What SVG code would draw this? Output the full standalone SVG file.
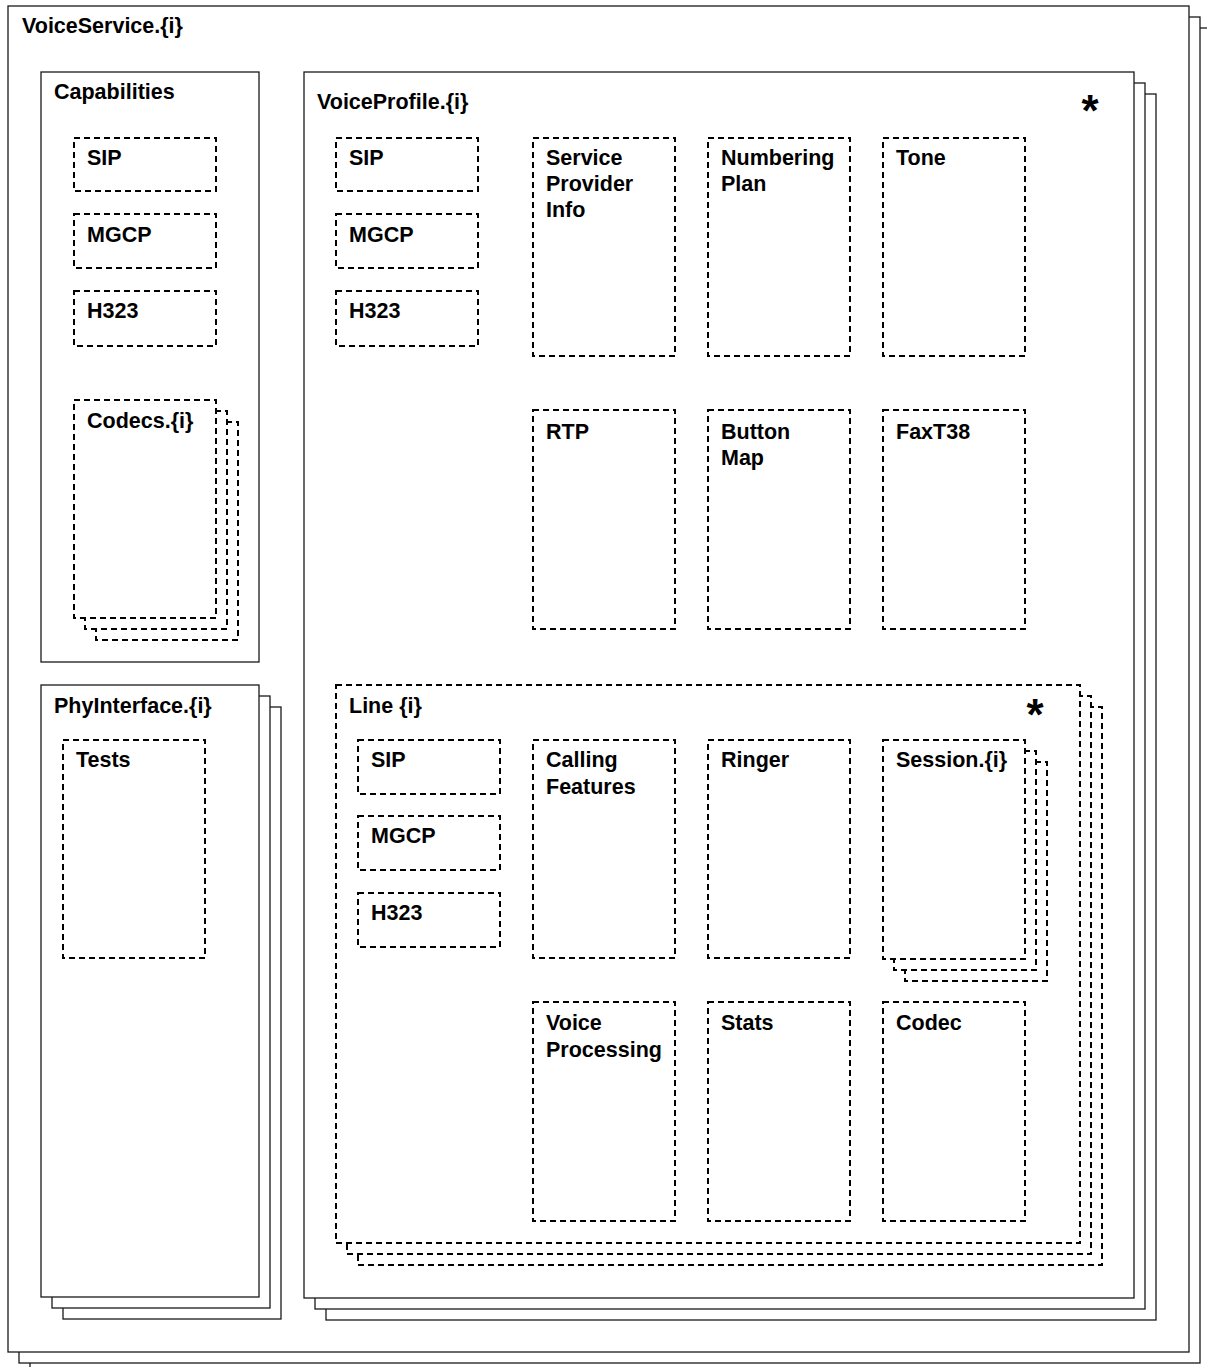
<svg xmlns="http://www.w3.org/2000/svg" width="1207" height="1367" viewBox="0 0 1207 1367">
<style>
.solid{fill:#fff;stroke:#1a1a1a;stroke-width:1.3}
.dash{fill:#fff;stroke:#000;stroke-width:2;stroke-dasharray:6 4}
.lbl{font-family:"Liberation Sans",Arial,Helvetica,sans-serif;font-weight:bold;font-size:21.5px;fill:#000}
.star{font-family:"Liberation Sans",Arial,sans-serif;font-weight:bold;font-size:44px;fill:#000;text-anchor:middle}
</style>
<rect width="1207" height="1367" fill="#fff"/>
<g id="VoiceService">
<rect class="solid" x="30" y="28" width="1181" height="1346"/>
<rect class="solid" x="19" y="17" width="1181" height="1346"/>
<rect class="solid" x="8" y="6" width="1181" height="1346"/>
<text class="lbl" x="22" y="33">VoiceService.{i}</text>
</g>
<g id="Capabilities">
<rect class="solid" x="41" y="72" width="218" height="590"/>
<text class="lbl" x="54" y="99">Capabilities</text>
</g>
<g id="Cap_SIP"><rect class="dash" x="74" y="138" width="142" height="53"/><text class="lbl" x="87" y="165">SIP</text></g>
<g id="Cap_MGCP"><rect class="dash" x="74" y="214" width="142" height="54"/><text class="lbl" x="87" y="242">MGCP</text></g>
<g id="Cap_H323"><rect class="dash" x="74" y="291" width="142" height="55"/><text class="lbl" x="87" y="318">H323</text></g>
<g id="Cap_Codecs">
<rect class="dash" x="96" y="422" width="142" height="218"/>
<rect class="dash" x="85" y="411" width="142" height="218"/>
<rect class="dash" x="74" y="400" width="142" height="218"/>
<text class="lbl" x="87" y="428">Codecs.{i}</text>
</g>
<g id="PhyInterface">
<rect class="solid" x="63" y="707" width="218" height="612"/>
<rect class="solid" x="52" y="696" width="218" height="612"/>
<rect class="solid" x="41" y="685" width="218" height="612"/>
<text class="lbl" x="54" y="713">PhyInterface.{i}</text>
</g>
<g id="Phy_Tests"><rect class="dash" x="63" y="740" width="142" height="218"/><text class="lbl" x="76" y="767">Tests</text></g>
<g id="VoiceProfile">
<rect class="solid" x="326" y="94" width="830" height="1226"/>
<rect class="solid" x="315" y="83" width="830" height="1226"/>
<rect class="solid" x="304" y="72" width="830" height="1226"/>
<text class="lbl" x="317" y="109">VoiceProfile.{i}</text>
<text class="star" x="1090" y="126">*</text>
</g>
<g id="VP_SIP"><rect class="dash" x="336" y="138" width="142" height="53"/><text class="lbl" x="349" y="165">SIP</text></g>
<g id="VP_MGCP"><rect class="dash" x="336" y="214" width="142" height="54"/><text class="lbl" x="349" y="242">MGCP</text></g>
<g id="VP_H323"><rect class="dash" x="336" y="291" width="142" height="55"/><text class="lbl" x="349" y="318">H323</text></g>
<g id="VP_ServiceProviderInfo"><rect class="dash" x="533" y="138" width="142" height="218"/><text class="lbl" x="546" y="165">Service</text><text class="lbl" x="546" y="191">Provider</text><text class="lbl" x="546" y="217">Info</text></g>
<g id="VP_NumberingPlan"><rect class="dash" x="708" y="138" width="142" height="218"/><text class="lbl" x="721" y="165">Numbering</text><text class="lbl" x="721" y="191">Plan</text></g>
<g id="VP_Tone"><rect class="dash" x="883" y="138" width="142" height="218"/><text class="lbl" x="896" y="165">Tone</text></g>
<g id="VP_RTP"><rect class="dash" x="533" y="410" width="142" height="219"/><text class="lbl" x="546" y="439">RTP</text></g>
<g id="VP_ButtonMap"><rect class="dash" x="708" y="410" width="142" height="219"/><text class="lbl" x="721" y="439">Button</text><text class="lbl" x="721" y="465">Map</text></g>
<g id="VP_FaxT38"><rect class="dash" x="883" y="410" width="142" height="219"/><text class="lbl" x="896" y="439">FaxT38</text></g>
<g id="Line">
<rect class="dash" x="358" y="707" width="744" height="558"/>
<rect class="dash" x="347" y="696" width="744" height="558"/>
<rect class="dash" x="336" y="685" width="744" height="558"/>
<text class="lbl" x="349" y="713">Line {i}</text>
<text class="star" x="1035" y="730">*</text>
</g>
<g id="Line_SIP"><rect class="dash" x="358" y="740" width="142" height="54"/><text class="lbl" x="371" y="767">SIP</text></g>
<g id="Line_MGCP"><rect class="dash" x="358" y="816" width="142" height="54"/><text class="lbl" x="371" y="843">MGCP</text></g>
<g id="Line_H323"><rect class="dash" x="358" y="893" width="142" height="54"/><text class="lbl" x="371" y="920">H323</text></g>
<g id="Line_CallingFeatures"><rect class="dash" x="533" y="740" width="142" height="218"/><text class="lbl" x="546" y="767">Calling</text><text class="lbl" x="546" y="794">Features</text></g>
<g id="Line_Ringer"><rect class="dash" x="708" y="740" width="142" height="218"/><text class="lbl" x="721" y="767">Ringer</text></g>
<g id="Line_Session">
<rect class="dash" x="905" y="762" width="142" height="219"/>
<rect class="dash" x="894" y="751" width="142" height="219"/>
<rect class="dash" x="883" y="740" width="142" height="219"/>
<text class="lbl" x="896" y="767">Session.{i}</text>
</g>
<g id="Line_VoiceProcessing"><rect class="dash" x="533" y="1002" width="142" height="219"/><text class="lbl" x="546" y="1030">Voice</text><text class="lbl" x="546" y="1057">Processing</text></g>
<g id="Line_Stats"><rect class="dash" x="708" y="1002" width="142" height="219"/><text class="lbl" x="721" y="1030">Stats</text></g>
<g id="Line_Codec"><rect class="dash" x="883" y="1002" width="142" height="219"/><text class="lbl" x="896" y="1030">Codec</text></g>
<g id="connectors"></g>
</svg>
